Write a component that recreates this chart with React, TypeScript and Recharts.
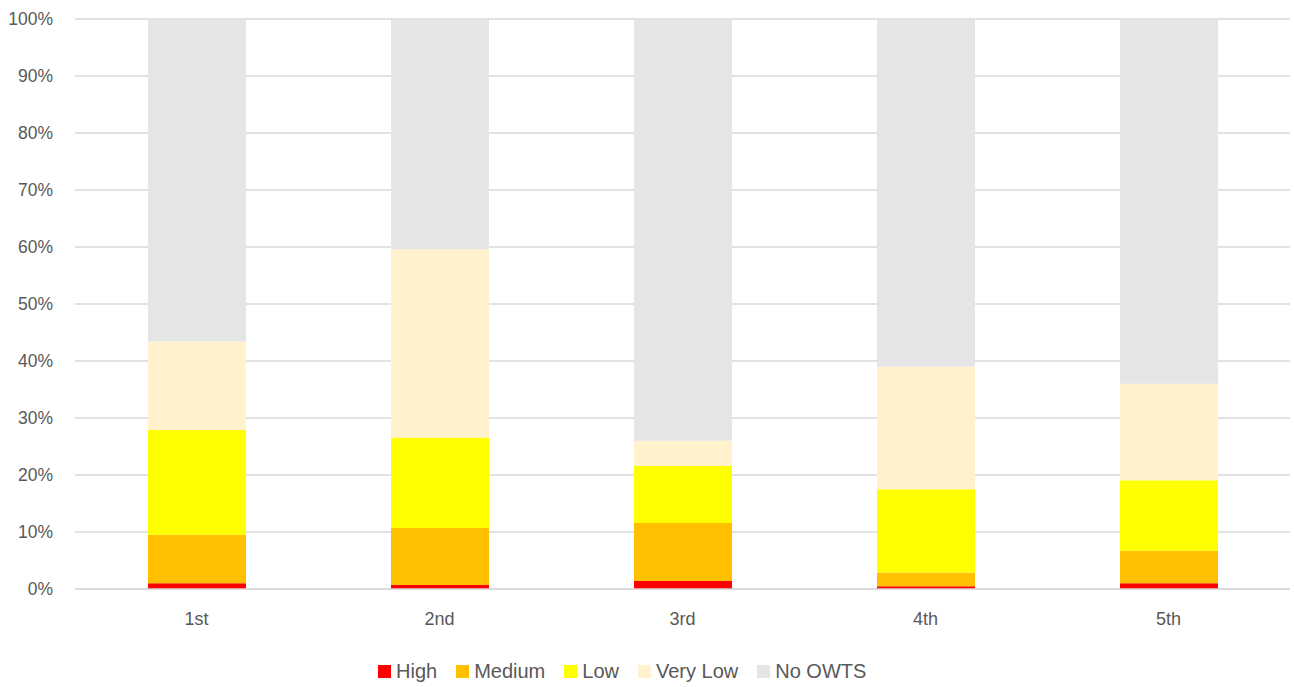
import React from 'react';
import {
  BarChart,
  Bar,
  XAxis,
  YAxis,
  CartesianGrid,
} from 'recharts';

// quintile categories along the x axis
const quintiles = ['1st', '2nd', '3rd', '4th', '5th'];

// share of parcels (%) in each risk class, per quintile
const high = [1.0, 0.7, 1.4, 0.5, 1.0];
const medium = [8.5, 10.0, 10.2, 2.4, 5.7];
const low = [18.4, 15.9, 10.0, 14.6, 12.4];
const veryLow = [15.5, 33.0, 4.4, 21.5, 16.9];
const noOwts = [56.6, 40.4, 74.0, 61.0, 64.0];

const yTicks = [0, 10, 20, 30, 40, 50, 60, 70, 80, 90, 100];

const series = [
  { key: 'high', name: 'High', color: '#FF0000' },
  { key: 'medium', name: 'Medium', color: '#FFC000' },
  { key: 'low', name: 'Low', color: '#FFFF00' },
  { key: 'veryLow', name: 'Very Low', color: '#FFF2CC' },
  { key: 'noOwts', name: 'No OWTS', color: '#E5E5E5' },
];

const data = quintiles.map((q, i) => ({
  name: q,
  high: high[i],
  medium: medium[i],
  low: low[i],
  veryLow: veryLow[i],
  noOwts: noOwts[i],
}));

const font = '"Liberation Sans", Arial, sans-serif';

// legend drawn under the plot, left-shifted like the original layout
const ChartLegend = () => (
  <div
    style={{
      position: 'absolute',
      left: 378,
      top: 660,
      display: 'flex',
      alignItems: 'center',
      fontFamily: font,
      fontSize: 20,
      color: '#595959',
      whiteSpace: 'nowrap',
    }}
  >
    {series.map((s) => (
      <div key={s.key} style={{ display: 'flex', alignItems: 'center', marginRight: 19 }}>
        <span style={{ width: 13, height: 13, background: s.color, marginRight: 5, display: 'inline-block' }} />
        <span>{s.name}</span>
      </div>
    ))}
  </div>
);

const App = () => {
  return (
    <div style={{ position: 'absolute', left: 0, top: 0, width: 1294, height: 687, background: '#fff' }}>
      <BarChart
        width={1294}
        height={687}
        data={data}
        margin={{ top: 19, right: 4, left: 0, bottom: 68 }}
      >
        <CartesianGrid vertical={false} stroke="#D9D9D9" strokeWidth={1.5} />
        <XAxis
          dataKey="name"
          height={30}
          axisLine={{ stroke: '#D9D9D9', strokeWidth: 1.5 }}
          tickLine={false}
          tickMargin={17}
          tick={{ fill: '#595959', fontSize: 18, fontFamily: font }}
        />
        <YAxis
          width={75}
          domain={[0, 100]}
          ticks={yTicks}
          axisLine={false}
          tickLine={false}
          tickMargin={16}
          tickFormatter={(v) => `${v}%`}
          tick={{ fill: '#595959', fontSize: 17.5, fontFamily: font }}
        />
        {series.map((s) => (
          <Bar
            key={s.key}
            dataKey={s.key}
            name={s.name}
            stackId="a"
            fill={s.color}
            barSize={98}
            isAnimationActive={false}
          />
        ))}
      </BarChart>
      <ChartLegend />
    </div>
  );
};

export default App;
